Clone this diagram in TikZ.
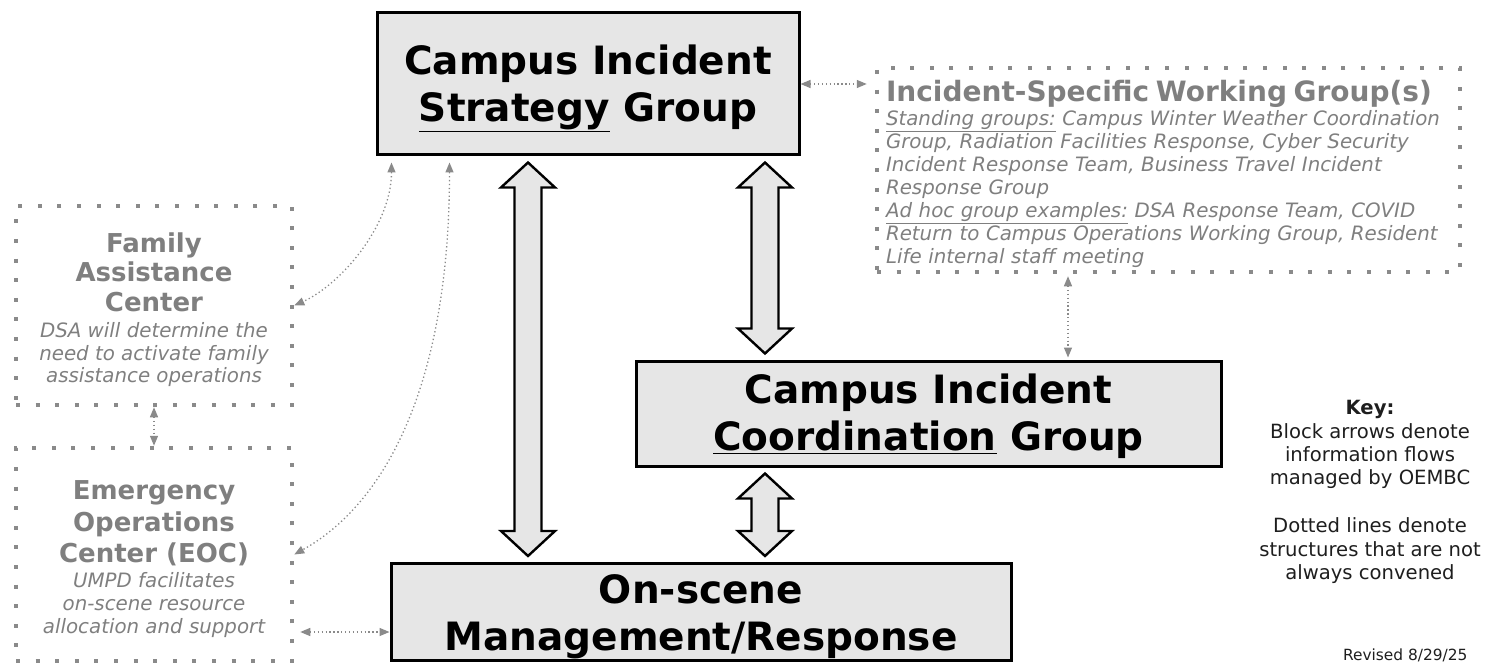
\documentclass[tikz,border=0pt]{standalone}
\usepackage{fontspec}
\setmainfont{DejaVu Sans}
\usetikzlibrary{arrows.meta,calc}

\definecolor{boxfill}{HTML}{E6E6E6}
\definecolor{softtext}{HTML}{7F7F7F}
\definecolor{dotline}{HTML}{8A8A8A}
\definecolor{keytext}{HTML}{1E1E1E}

\newcommand{\optitle}[1]{{\upshape\bfseries\fontsize{26}{30}\selectfont #1}}
\newcommand{\flowpair}[3]{%
  \draw[flow] let \p1=(#2), \p2=(#3) in
    ({#1pt},{\y1-6pt}) -- ++(27,25) -- ++(-13.5,0)
    -- ({#1pt+13.5pt},{\y2+31pt}) -- ++(13.5,0)
    -- ({#1pt},{\y2+6pt}) -- ++(-27,-25) -- ++(13.5,0)
    -- ({#1pt-13.5pt},{\y1-31pt}) -- ++(-13.5,0) -- cycle;}

\tikzset{
  groupbox/.style={draw=black, line width=3pt, fill=boxfill, align=center, inner sep=0pt,
    font={\bfseries\fontsize{39}{47}\selectfont}},
  optbox/.style={draw=dotline, line width=4.5pt, dash pattern=on 4pt off 15.6pt,
    align=center, inner sep=0pt, text=softtext, font={\itshape\fontsize{19.8}{22.5}\selectfont}},
  link/.style={draw=dotline, line width=1.3pt, dash pattern=on 1.3pt off 2.6pt,
    {Triangle[length=10pt,width=8pt]}-{Triangle[length=10pt,width=8pt]}},
  flow/.style={draw=black, line width=2.4pt, fill=boxfill, line join=miter}
}

\begin{document}
\begin{tikzpicture}[x=1pt, y=-1pt]
  \useasboundingbox (0,0) rectangle (1497,663);

  % standing groups
  \node[groupbox, minimum width=422, minimum height=142, text height=84.6pt] (strategy) at (588,84)
    {Campus Incident\\\underline{Strategy} Group};
  \node[groupbox, minimum width=585, minimum height=105, text height=83pt] (coordination) at (928.5,413.5)
    {Campus Incident\\\underline{Coordination} Group};
  \node[groupbox, minimum width=620, minimum height=97, text height=85pt] (onscene) at (701,612)
    {On-scene\\Management/Response};

  % structures that are not always convened
  \node[optbox, minimum width=583, minimum height=204, text width=565, align=left, text height=29.3pt,
    font={\itshape\fontsize{19.8}{23}\selectfont}] (working) at (1168.5,170)
    {{\upshape\bfseries\fontsize{28}{30}\selectfont Incident-Specific Working Group(s)}\\[1pt]
     \underline{Standing groups:} Campus Winter Weather Coordination\\
     Group, Radiation Facilities Response, Cyber Security\\
     Incident Response Team, Business Travel Incident\\
     Response Group\\
     \underline{Ad hoc group examples:} DSA Response Team, COVID\\
     Return to Campus Operations Working Group, Resident\\
     Life internal staff meeting};
  \node[optbox, minimum width=276, minimum height=199, text height=158.8pt] (family) at (154,305.5)
    {\optitle{Family}\\[3.1pt]\optitle{Assistance}\\[7.5pt]\optitle{Center}\\[3.5pt]
     DSA will determine the\\need to activate family\\assistance operations};
  \node[optbox, minimum width=276, minimum height=213, text height=162pt] (eoc) at (154,554.5)
    {\optitle{Emergency}\\[5.1pt]\optitle{Operations}\\[5.1pt]\optitle{Center (EOC)}\\[2.5pt]
     UMPD facilitates\\[1pt]on-scene resource\\allocation and support};

  % key
  \node[align=center, text=keytext, font={\fontsize{19.6}{23.3}\selectfont}] (key) at (1370,492)
    {\textbf{Key:}\\Block arrows denote\\information flows\\managed by OEMBC\\[24.7pt]
     Dotted lines denote\\structures that are not\\always convened};
  \node[anchor=base east, text=keytext, font={\fontsize{15.4}{18}\selectfont}] (revised) at (1471,660)
    {Revised 8/29/25};

  % block arrows
  \flowpair{528}{strategy.south}{onscene.north}
  \flowpair{765}{strategy.south}{coordination.north}
  \flowpair{765}{coordination.south}{onscene.north}

  % dotted links
  \coordinate (eocport) at ([yshift=-20pt]onscene.west);
  \draw[link, shorten >=8pt] (strategy.east) -- (strategy.east -| working.west);
  \draw[link, shorten <=2pt, shorten >=2pt] ([xshift=-100.5pt]working.south)
    -- ([xshift=-100.5pt]working.south |- coordination.north);
  \draw[link] (family.south) -- (eoc.north);
  \draw[link, shorten <=6pt] (eocport -| eoc.east) -- (eocport);
  \draw[link, shorten <=6pt] ([xshift=16pt]strategy.south west)
    .. controls +(0,70) and +(45,-20) .. (family.east);
  \draw[link, shorten <=6pt] ([xshift=74pt]strategy.south west)
    .. controls +(0,230) and +(90,-50) .. (eoc.east);
\end{tikzpicture}
\end{document}
